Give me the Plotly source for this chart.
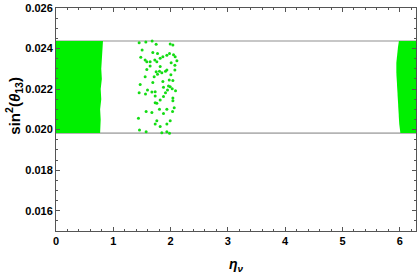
import plotly.graph_objects as go

# horizontal band limits (sin^2 theta13 range)
band_low = 0.01983
band_high = 0.02437

# dense region near eta=0 (outline of the filled cloud)
left_x = [0.0, 0.0, 0.82, 0.81, 0.80, 0.79, 0.80, 0.78, 0.79, 0.77, 0.78, 0.77, 0.0]
left_y = [0.01983, 0.02437, 0.02437, 0.0240, 0.0235, 0.0230, 0.0225, 0.0220, 0.0215, 0.0210, 0.0205, 0.01983, 0.01983]

# dense region near eta=2pi
right_x = [6.2832, 5.985, 5.97, 5.95, 5.94, 5.94, 5.95, 5.95, 5.96, 5.97, 5.99, 6.01, 6.2832]
right_y = [0.02437, 0.02437, 0.0241, 0.0237, 0.0233, 0.0228, 0.0223, 0.0218, 0.0213, 0.0208, 0.0203, 0.01983, 0.01983]

# sparse points around eta ~ 1.4 - 2.1
sparse_x = [1.451, 1.568, 1.678, 1.748, 1.993, 2.040, 1.503, 1.690, 1.772, 1.981,
            2.051, 2.080, 1.935, 1.480, 1.556, 1.585, 1.725, 1.760, 1.818, 1.865,
            1.643, 2.110, 2.010, 2.075, 1.818, 1.643, 1.585, 1.748, 1.806, 1.847,
            1.772, 1.713, 2.005, 2.075, 1.935, 1.911, 1.556, 1.976, 2.040, 1.865,
            1.690, 1.469, 1.993, 1.964, 1.876, 2.028, 2.086, 1.946, 1.597, 1.673,
            1.731, 1.451, 1.562, 1.911, 2.040, 1.731, 1.876, 2.040, 1.818, 1.760,
            1.731, 1.573, 1.673, 1.806, 1.876, 1.935, 2.063, 2.034, 1.439, 1.760,
            1.731, 1.818, 1.935, 1.993, 1.457, 1.573, 1.847, 1.935, 1.981]
sparse_y = [0.02429, 0.02432, 0.02437, 0.02421, 0.02422, 0.02417, 0.02393, 0.02380, 0.02376, 0.02376,
            0.02370, 0.02360, 0.02367, 0.02357, 0.02343, 0.02335, 0.02343, 0.02335, 0.02352, 0.02360,
            0.02335, 0.02340, 0.02330, 0.02317, 0.02311, 0.02314, 0.02297, 0.02286, 0.02288, 0.02281,
            0.02273, 0.02261, 0.02271, 0.02294, 0.02294, 0.02288, 0.02261, 0.02245, 0.02242, 0.02238,
            0.02232, 0.02223, 0.02212, 0.02215, 0.02209, 0.02202, 0.02192, 0.02196, 0.02196, 0.02186,
            0.02187, 0.02182, 0.02176, 0.02182, 0.02156, 0.02166, 0.02163, 0.02143, 0.02146, 0.02130,
            0.02133, 0.02089, 0.02084, 0.02100, 0.02080, 0.02100, 0.02108, 0.02089, 0.02056, 0.02044,
            0.02028, 0.02015, 0.02028, 0.02044, 0.01998, 0.01990, 0.01985, 0.01990, 0.01982]

x_ticks = [0, 1, 2, 3, 4, 5, 6]
y_ticks = [0.016, 0.018, 0.020, 0.022, 0.024, 0.026]
x_range = [0, 6.2832]
y_range = [0.015, 0.026]

green = "rgb(0,240,0)"
font_family = "Liberation Sans, Arial"

fig = go.Figure()
for yv in [band_low, band_high]:
    fig.add_trace(go.Scatter(x=x_range, y=[yv, yv], mode="lines",
                             line=dict(color="#b4b4b4", width=1.6),
                             hoverinfo="skip", showlegend=False))
fig.add_trace(go.Scatter(x=left_x, y=left_y, fill="toself", mode="lines",
                         line=dict(width=0, color=green), fillcolor=green,
                         showlegend=False))
fig.add_trace(go.Scatter(x=right_x, y=right_y, fill="toself", mode="lines",
                         line=dict(width=0, color=green), fillcolor=green,
                         showlegend=False))
fig.add_trace(go.Scatter(x=sparse_x, y=sparse_y, mode="markers",
                         marker=dict(color="rgb(20,220,20)", size=3.0, line=dict(width=0)),
                         showlegend=False))

axis_common = dict(showgrid=False, zeroline=False, showline=True, linecolor="#555555",
                   linewidth=1, mirror="ticks", ticks="inside", ticklen=4,
                   tickcolor="#555555", tickwidth=1, automargin=False,
                   tickfont=dict(family=font_family, size=11, color="black", weight="bold"))

fig.update_xaxes(range=x_range, tickvals=x_ticks, ticktext=[str(v) for v in x_ticks],
                 minor=dict(dtick=0.2, ticks="inside", ticklen=2, tickcolor="#555555"),
                 title=dict(text="<i>η</i><sub><i>ν</i></sub>", standoff=13,
                            font=dict(family=font_family, size=14, color="black", weight="bold")),
                 **axis_common)
fig.update_yaxes(range=y_range, tickvals=y_ticks, ticktext=["%.3f" % v for v in y_ticks],
                 minor=dict(dtick=0.0005, ticks="inside", ticklen=2, tickcolor="#555555"),
                 **axis_common)

fig.add_annotation(text="<b>sin<sup>2</sup>(<i>θ</i><sub>13</sub>)</b>", xref="paper", yref="paper",
                   x=-0.118, y=0.56, xanchor="center", yanchor="middle", textangle=-90,
                   showarrow=False, font=dict(family=font_family, size=15, color="black"))

fig.update_layout(width=418, height=274, margin=dict(l=56, r=2, t=8, b=43),
                  plot_bgcolor="white", paper_bgcolor="white")
fig.write_html("out.html", config={"displayModeBar": False},
               post_script="document.body.style.margin='0';")
